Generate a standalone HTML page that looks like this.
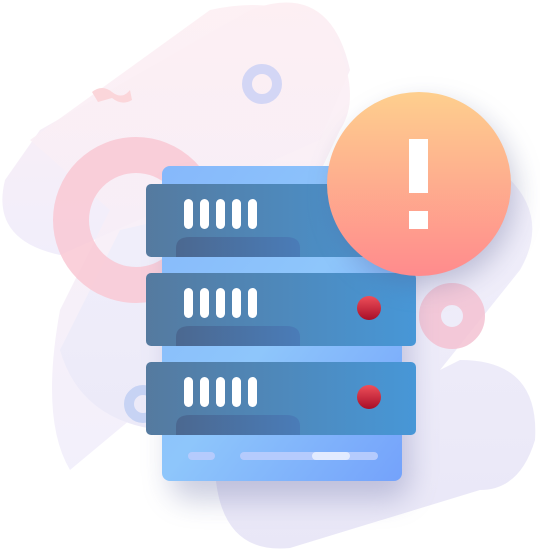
<!DOCTYPE html>
<html><head><style>html,body{margin:0;padding:0;background:#fff;width:540px;height:553px;overflow:hidden}</style></head>
<body>
<svg width="540" height="553" viewBox="0 0 540 553" xmlns="http://www.w3.org/2000/svg">
<defs>
<linearGradient id="bgp" x1="0" y1="0" x2="0" y2="1"><stop offset="0" stop-color="#fdeff3"/><stop offset="1" stop-color="#f1eefb"/></linearGradient>
<linearGradient id="bgv" x1="0" y1="0" x2="0" y2="1"><stop offset="0" stop-color="#f2f0fb"/><stop offset="1" stop-color="#e9e7f7"/></linearGradient>
<linearGradient id="body" x1="0" y1="0" x2="1" y2="1"><stop offset="0" stop-color="#86b8fb"/><stop offset="0.5" stop-color="#8ec6fb"/><stop offset="1" stop-color="#74a2fb"/></linearGradient>
<linearGradient id="unit" x1="0" y1="0" x2="1" y2="0"><stop offset="0" stop-color="#557a9f"/><stop offset="1" stop-color="#4797d7"/></linearGradient>
<linearGradient id="tab" x1="0" y1="0" x2="1" y2="0"><stop offset="0" stop-color="#4b6890"/><stop offset="1" stop-color="#4a7cb8"/></linearGradient>
<linearGradient id="alert" x1="0" y1="0" x2="0" y2="1"><stop offset="0" stop-color="#fecf8e"/><stop offset="1" stop-color="#ff8b8d"/></linearGradient>
<linearGradient id="dot" x1="0" y1="0" x2="0" y2="1"><stop offset="0" stop-color="#ee4f5a"/><stop offset="1" stop-color="#a80e28"/></linearGradient>
<filter id="sh" x="-30%" y="-30%" width="160%" height="160%"><feGaussianBlur stdDeviation="14"/></filter>
</defs>
<path d="M40 130 L250 10 Q330 -20 350 70 L320 140 L60 255 Q-10 240 5 180 Z" fill="url(#bgp)"/>
<path d="M210 10 Q300 -10 340 50 Q360 100 340 130 L250 320 L70 470 Q40 420 60 310 L110 210 L30 140 Z" fill="url(#bgp)" opacity="0.9"/>
<path d="M470 150 Q560 200 520 270 L440 370 L460 360 Q540 360 535 440 Q520 490 480 490 L290 548 Q220 555 215 470 L160 430 Q80 420 60 350 L120 230 Z" fill="url(#bgv)"/>
<circle cx="136" cy="220" r="65" fill="none" stroke="#f9c8d4" stroke-width="36" opacity="0.85"/>
<circle cx="262" cy="84" r="15" fill="none" stroke="#d3d6f5" stroke-width="10"/>
<circle cx="452" cy="316" r="22" fill="none" stroke="#f3c2d2" stroke-width="22" opacity="0.85"/>
<circle cx="143" cy="404" r="14" fill="none" stroke="#c7d3f4" stroke-width="10"/>
<path d="M92 92 Q102 84 112 92 Q122 100 130 90 L132 100 Q122 106 112 98 L98 102 Z" fill="#fbd6da"/>
<rect x="170" y="190" width="240" height="310" rx="20" fill="#6d75a8" opacity="0.35" filter="url(#sh)"/>
<rect x="162" y="166" width="240" height="315" rx="8" fill="url(#body)"/>
<g>
<rect x="146" y="184" width="270" height="73" rx="5" fill="url(#unit)"/>
<path d="M176 257 V248 Q176 237 190 237 H286 Q300 237 300 248 V257 Z" fill="url(#tab)"/>
<g fill="#fff"><rect x="184" y="199" width="9" height="30" rx="4.5"/><rect x="200" y="199" width="9" height="30" rx="4.5"/><rect x="216" y="199" width="9" height="30" rx="4.5"/><rect x="232" y="199" width="9" height="30" rx="4.5"/><rect x="248" y="199" width="9" height="30" rx="4.5"/></g>
</g>
<g transform="translate(0,89)">
<rect x="146" y="184" width="270" height="73" rx="5" fill="url(#unit)"/>
<path d="M176 257 V248 Q176 237 190 237 H286 Q300 237 300 248 V257 Z" fill="url(#tab)"/>
<g fill="#fff"><rect x="184" y="199" width="9" height="30" rx="4.5"/><rect x="200" y="199" width="9" height="30" rx="4.5"/><rect x="216" y="199" width="9" height="30" rx="4.5"/><rect x="232" y="199" width="9" height="30" rx="4.5"/><rect x="248" y="199" width="9" height="30" rx="4.5"/></g>
<circle cx="369" cy="219" r="12" fill="url(#dot)"/>
</g>
<g transform="translate(0,178)">
<rect x="146" y="184" width="270" height="73" rx="5" fill="url(#unit)"/>
<path d="M176 257 V248 Q176 237 190 237 H286 Q300 237 300 248 V257 Z" fill="url(#tab)"/>
<g fill="#fff"><rect x="184" y="199" width="9" height="30" rx="4.5"/><rect x="200" y="199" width="9" height="30" rx="4.5"/><rect x="216" y="199" width="9" height="30" rx="4.5"/><rect x="232" y="199" width="9" height="30" rx="4.5"/><rect x="248" y="199" width="9" height="30" rx="4.5"/></g>
<circle cx="369" cy="219" r="12" fill="url(#dot)"/>
</g>
<rect x="188" y="452" width="27" height="8" rx="4" fill="#b5cbfd"/>
<rect x="240" y="452" width="138" height="8" rx="4" fill="#b5cbfd"/>
<rect x="312" y="452" width="38" height="8" rx="4" fill="#e2ebff"/>
<circle cx="425" cy="195" r="90" fill="#5a6090" opacity="0.35" filter="url(#sh)"/>
<circle cx="419" cy="184" r="92" fill="url(#alert)"/>
<rect x="409" y="139" width="19" height="54" fill="#fff"/>
<rect x="409" y="211" width="19" height="18" fill="#fff"/>
</svg>
</body></html>
